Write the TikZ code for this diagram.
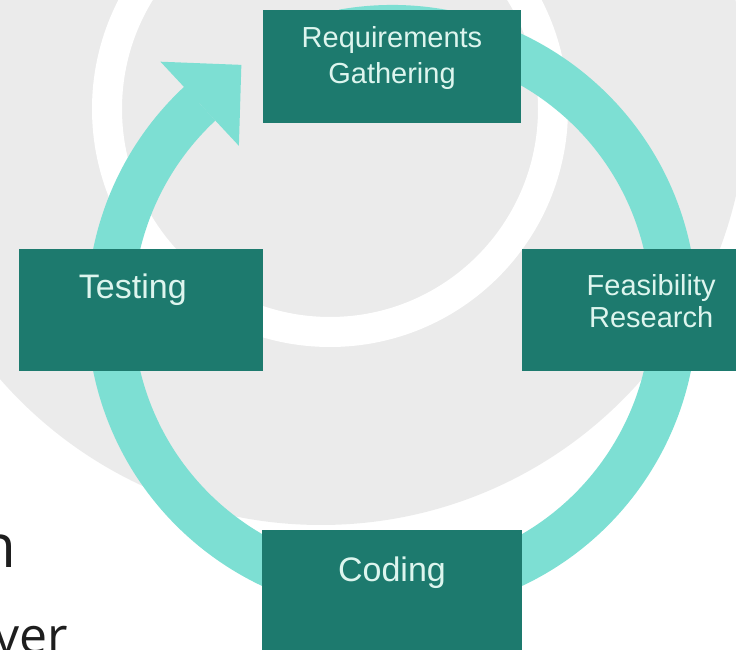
\documentclass[tikz,border=0pt]{standalone}
\usepackage{fontspec}
\setmainfont{Liberation Sans}
\newfontfamily\slidefont{Open Sans}
\usetikzlibrary{positioning, arrows.meta}
\definecolor{stagegreen}{HTML}{1D7A6E}
\definecolor{ringteal}{HTML}{7DDFD3}
\definecolor{stageink}{HTML}{DDF5EE}
\definecolor{backgray}{HTML}{EBEBEB}
\definecolor{slideink}{HTML}{1E1E1E}

\begin{document}
\begin{tikzpicture}[x=1pt, y=1pt,
    stage/.style = {fill=stagegreen, inner sep=0pt},
    stagetext/.style = {text=stageink, inner sep=0pt, align=center},
    ring/.style = {draw=ringteal, line width=46pt}]
	\useasboundingbox (0,0) rectangle (736,650);
	\clip (0,0) rectangle (736,650);
	% background discs
	\fill[backgray] (321,551) circle[radius=426];
	\draw[white, line width=30pt] (330,541) circle[radius=223];
	% the cycle
	\coordinate (c) at (392,340);
	\draw[ring, -{Triangle[width=115pt, length=57pt, line width=0pt]}] ([shift={(100:282)}]c) arc[start angle=100, end angle=-227, radius=282] -- ++(43:57);
	\node[stage, minimum width=258pt, minimum height=113pt, above=187pt of c] (req) {};
	\node[stage, minimum width=258pt, minimum height=122pt, right=130pt of c] (feas) {};
	\node[stage, minimum width=244pt, minimum height=122pt, left=129pt of c] (test) {};
	\node[stage, minimum width=260pt, minimum height=122pt, below=220pt of c] (code) {};
	\node[stagetext, font=\fontsize{29}{36}\selectfont, below=17pt of req.north] (reqtext) {Requirements\\Gathering};
	\node[stagetext, font=\fontsize{29}{32}\selectfont, below=25pt of feas.north] (feastext) {Feasibility\\Research};
	\node[stagetext, font=\fontsize{34}{40}\selectfont, below=25pt of test.north, xshift=-8pt] (testtext) {Testing};
	\node[stagetext, font=\fontsize{34}{40}\selectfont, below=27pt of code.north] (codetext) {Coding};
	% slide text cut by the frame
	\node[anchor=base east, inner sep=0pt, text=slideink, font=\slidefont\fontsize{60}{72}\selectfont] (frag1) at (17,82) {n};
	\node[anchor=base west, inner sep=0pt, text=slideink, font=\slidefont\fontsize{50}{60}\selectfont] (frag2) at (-6,-4) {ver};
\end{tikzpicture}
\end{document}
